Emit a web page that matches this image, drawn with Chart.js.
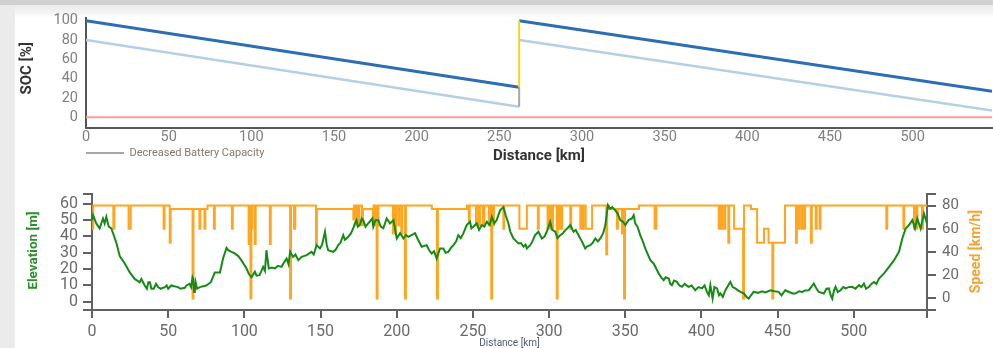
<!DOCTYPE html>
<html><head><meta charset="utf-8">
<script src="https://cdn.jsdelivr.net/npm/chart.js@4.4.1/dist/chart.umd.min.js"></script>
<style>
html,body{margin:0;padding:0;background:#fff;width:993px;height:348px;overflow:hidden;}
#frameTop{position:absolute;left:0;top:0;width:993px;height:5px;background:#d0d0d0;}
#frameTop2{position:absolute;left:0;top:5px;width:993px;height:13px;background:linear-gradient(#ebebeb,#f3f3f3 55%,#ffffff);}
#frameLeft{position:absolute;left:0;top:0;width:15px;height:348px;background:#ebebeb;}
#c1{position:absolute;left:0;top:0;}
#c2{position:absolute;left:0;top:170px;}
</style></head>
<body>
<div id="frameTop2"></div><div id="frameLeft"></div><div id="frameTop"></div>
<canvas id="c1" width="993" height="170"></canvas>
<canvas id="c2" width="993" height="178"></canvas>
<script>
// ---------- data ----------
const routeEnd = 548;
const distanceTicks = [0, 50, 100, 150, 200, 250, 300, 350, 400, 450, 500];
const socTicks = [0, 20, 40, 60, 80, 100];
const elevTicks = [0, 10, 20, 30, 40, 50, 60];
const speedTicks = [0, 20, 40, 60, 80];

// State of charge (route with one charging stop at km 262)
const socKm = [0, 262, 262, 548];
const socMain = [100, 31, 100, 27];
const socDecreased = [80, 11, 80, 7];
const reserveSoc = [0, 0];
const reserveKm = [0, 548];

// Elevation profile
const elevKm = [0, 0.7, 2.8, 5, 7.2, 8.3, 9.4, 11, 12.7, 13.8, 16, 18.2, 21.5, 24.8, 28, 31.3, 32.4, 34.6, 36, 37, 38, 39, 40.5, 42, 43.4, 45, 47.8, 49, 50, 52, 54, 56.5, 58, 60.9, 62, 64, 65, 66, 66.4, 67, 67.5, 68, 69, 70.7, 75, 78, 80.6, 84, 86, 88.3,
  89.4, 91.5, 93.7, 96, 98, 101.4, 103, 104.7, 106.9, 108, 110, 112.3, 113.5, 114.5, 116, 118, 120, 122, 124.4, 126, 127.7, 129, 130, 132, 133.5, 135.4, 137.6, 140.9, 144.1, 145.5, 147.4, 149.6, 151, 152.9, 154, 155, 158.3, 160, 161.6, 163, 164.9, 166, 168.2, 170, 171.4, 172.5, 173.6, 174.5, 175.8, 177, 178, 179.5, 181.3, 184,
  184.6, 186, 187.9, 189.5, 191.2, 193.4, 195.6, 197.9, 200, 202.2, 204.4, 206, 207.6, 210, 212, 214, 216.4, 219.6, 221, 222.9, 224.5, 226.2, 228.4, 230.6, 232, 233.9, 235.5, 237.2, 239, 240.4, 242, 243.7, 245.9, 248.1, 249, 250.3, 252.5, 254, 255.8, 257.5, 259.1, 261, 262.4, 264, 265.6, 267.8, 270, 271.5, 273.3,
  274.5, 276.6, 278.5, 279.9, 281.5, 283.2, 284.5, 285.4, 287.6, 289, 290.8, 293, 295.2, 297, 298.5, 300.7, 302, 304, 305.5, 307.3, 309, 310.6, 312, 313.9, 316, 317.5, 319.3, 321.5, 323.7, 325, 327, 328.5, 330.3, 332, 333.6, 335.5, 336.9, 338.6, 340.1, 341.5, 343.4, 345, 346.7, 348.5, 350, 352.1, 354.3, 355.5, 356.5, 358, 359.8, 361.5, 363.1, 364.8, 366.4, 368.6,
  371.9, 373.5, 375.2, 376.5, 378.5, 379.5, 380.6, 382, 383.9, 385.5, 387.2, 389, 391.5, 393.5, 395.9, 398, 400.3, 402, 403.6, 404.8, 405.8, 407.3, 408.5, 410.2, 411.5, 412.4, 414, 415.7, 417.5, 418.9, 420.5, 422.2, 424, 425.5, 428, 429.5, 431, 432.5, 434.2, 437, 439.7, 442, 445.2, 448, 450.6, 452.5, 455, 457.5, 459.9,
  461.7, 464, 466.1, 468, 470.4, 472, 473.7, 475.5, 477, 480.3, 482, 483.6, 484.8, 485.8, 487, 488, 489.5, 491.3, 493, 494.6, 496.5, 499, 501, 503.4, 505, 506.6, 508, 509.9, 511.5, 513.2, 514.8, 516.5, 519.8, 523.1, 526.4, 529.6, 531.8, 534, 536.2, 538.4, 540.1, 541.6, 543.8, 546, 548];
const elevM = [50, 53, 48, 45, 51, 48, 52, 46, 45, 42, 36, 28, 23.5, 18, 14, 12, 14, 10, 8, 12, 12, 8, 8, 11, 9, 8, 9, 10, 8, 10, 9.5, 9, 8, 8.6, 10, 11, 9, 15, 14, 6, 7, 12, 8, 9, 10, 12, 18, 18, 26.5, 33,
  31.6, 30.6, 29.6, 28, 25.5, 20.4, 17, 15, 18.4, 16, 16.3, 21.4, 19, 31.6, 20.4, 21, 20.4, 22, 21.4, 24, 26.5, 23, 30.6, 27.5, 29, 25.5, 27.5, 28.6, 30.6, 29, 34.7, 32.7, 35, 42.9, 35, 31.6, 30.6, 32, 34.7, 36, 40.8, 38, 39.8, 42, 44.9, 48, 50, 46, 47, 51, 50, 46, 48, 51,
  46, 50, 50, 46, 45, 51, 48, 50, 38.8, 42, 38.8, 41, 39.8, 41, 42, 38, 33.7, 34.7, 32, 29.6, 31, 26.5, 32.7, 32.7, 30, 30.6, 33, 34.7, 37, 40.8, 39, 41.9, 47, 49, 45, 46, 48, 44, 47, 46, 49, 47, 52, 48, 50, 56, 58, 53, 48,
  43, 38.8, 37, 35.7, 36, 33.7, 35, 32.7, 34.7, 37, 40.8, 42.9, 38.8, 40, 42.9, 49, 44, 42.9, 39, 40.8, 42, 43.9, 45, 47, 42.9, 44, 40.8, 37, 32.7, 34, 34.7, 36, 38.8, 37, 38.8, 42, 47, 59.2, 57, 58, 56, 54, 50, 49, 47, 50, 51, 53, 48, 46, 40.8, 37, 32.7, 29, 25.5, 23.5,
  17.4, 15, 13.3, 15, 14.3, 11, 10.2, 13, 12.2, 10, 9.2, 11, 9.2, 10, 7.1, 9, 8.2, 10, 6.1, 4, 10.2, 2, 9, 8.2, 4, 5.1, 3, 7.1, 10, 12.2, 9, 8.2, 7, 6.1, 5, 3, 2, 4, 6.1, 5.5, 6.5, 5.8, 7.1, 6.5, 6.1, 4, 7.1, 6, 5.1,
  5.1, 6.5, 6.1, 7, 7.1, 9, 11.2, 8, 6.1, 5.1, 8, 8.2, 4, 2, 7, 9.2, 6, 7.1, 9, 8.2, 9, 9.2, 8, 10.2, 9, 11.2, 8, 9.2, 11, 12.2, 11, 14.3, 17.4, 21.4, 25.5, 30.6, 38.8, 44.9, 47, 50, 44.9, 51, 44.9, 54, 48];

// Speed profile (value holds from the given km onward)
const speedKm = [0, 0.8, 14, 14.7, 24, 25.4, 47, 47.6, 51, 51.6, 66, 66.6, 70.5, 71.1, 73.8, 74.4, 75.8, 80, 80.6, 91.8, 92.4,
  102.8, 103.4, 104, 104.6, 105.2, 106.8, 107.4, 116.7, 117.3, 130, 130.6, 132.6, 133.4, 147, 147.6,
  171.5, 172, 173.2, 173.7, 175, 175.5, 177.2, 177.8, 184.3, 184.8, 185.6, 186.1, 186.8, 187.4, 188,
  197.5, 198, 199, 199.5, 201, 201.6, 203, 203.6, 205.4, 206, 223, 226.4, 227, 246, 247.3, 247.9,
  252, 252.6, 254, 254.6, 256.5, 257.5, 260.4, 261, 262, 262.6, 263.3, 263.8, 270, 270.5, 280.5, 285.4,
  292.6, 293.2, 299, 299.6, 300.5, 301, 302, 302.5, 305, 305.6, 306.5, 307, 308, 308.5, 313.9, 314.5,
  320.5, 321, 322, 322.6, 324, 328.2, 337.5, 338.1, 339, 344.5, 345.1, 347.8, 348.3, 349.2, 349.8, 359,
  369.2, 370.4, 411.3, 411.9, 413, 413.6, 415, 415.6, 417.6, 418.2, 421.4, 427.3, 427.9, 432.5, 436.5,
  441, 444, 446.5, 447.1, 454.8, 462, 462.6, 463.6, 464.2, 465.6, 466.2, 467.4, 468, 471.8, 472.4,
  475, 475.6, 477.5, 478.1, 521.3, 521.9, 532.5, 533.1, 539.5, 540.1, 541.1, 541.7, 544.7, 545.3, 548];
const speedKmh = [60, 80, 60, 80, 60, 80, 60, 80, 48, 77, 0, 77, 60, 77, 60, 77, 80, 60, 80, 60, 80,
  47, 80, 0, 60, 80, 47, 80, 47, 80, 0, 80, 60, 80, 47, 77,
  68, 80, 63, 80, 63, 80, 63, 77, 63, 80, 63, 80, 0, 63, 80,
  56, 80, 56, 80, 63, 80, 56, 80, 0, 80, 77, 0, 77, 80, 67, 80,
  63, 80, 63, 80, 63, 80, 63, 80, 0, 80, 63, 80, 60, 80, 60, 80,
  60, 80, 60, 80, 60, 80, 60, 80, 0, 80, 60, 80, 60, 80, 60, 80,
  60, 80, 60, 80, 60, 80, 38, 80, 77, 60, 77, 56, 77, 0, 77, 80,
  60, 80, 60, 80, 60, 80, 60, 80, 48, 80, 60, 0, 80, 77, 48,
  60, 48, 0, 48, 80, 48, 80, 60, 80, 60, 80, 60, 80, 48, 80,
  60, 80, 60, 80, 60, 80, 60, 80, 60, 80, 60, 80, 60, 80, 80];

// ---------- helpers ----------
const FONT = 'Roboto, "Liberation Sans", Arial, sans-serif';
function pts(xs, ys) {
  const out = [];
  for (let i = 0; i < xs.length; i++) {
    if (i > 0 && xs[i] === xs[i - 1]) out.push({x: xs[i], y: null});
    out.push({x: xs[i], y: ys[i]});
  }
  return out;
}
const stopIdx = socKm.findIndex((v, i) => i > 0 && v === socKm[i - 1]);
const stopKm = socKm[stopIdx];
const chargePts = [{x: stopKm, y: socMain[stopIdx - 1]}, {x: stopKm, y: socMain[stopIdx]}];
const lossPts = [{x: stopKm, y: socDecreased[stopIdx - 1]}, {x: stopKm, y: socMain[stopIdx - 1]}];

// Axis titles read bottom-to-top, drawn by a small plugin
const verticalTitles = {
  id: 'verticalTitles',
  afterDraw(chart, args, opts) {
    const ctx = chart.ctx;
    (opts.items || []).forEach(t => {
      const s = chart.scales[t.scale];
      const y = (s.top + s.bottom) / 2 + (t.dy || 0);
      ctx.save();
      ctx.translate(t.x, y);
      ctx.rotate(-Math.PI / 2);
      ctx.textAlign = 'center';
      ctx.textBaseline = 'middle';
      ctx.font = Chart.helpers.toFont(t.font).string;
      ctx.fillStyle = t.color;
      ctx.fillText(t.text, 0, 0);
      ctx.restore();
    });
  }
};

// ---------- top chart ----------
const legendMover = {
  id: 'legendMover',
  afterLayout(chart) {
    const L = chart.legend;
    if (!L) return;
    const pad = L.options.labels.padding;
    L.left = 86 - pad;
    L.right = L.left + 320;
    L.top = 153 - pad - 5.5;
    L.bottom = L.top + 30;
  }
};

new Chart(document.getElementById('c1'), {
  type: 'line',
  data: {
    datasets: [
      {label: 'Decreased Battery Capacity', data: lossPts, borderColor: '#a6a6a6', backgroundColor: '#a6a6a6', borderWidth: 2, order: 1},
      {label: 'Charging', data: chargePts, borderColor: '#f6d21c', backgroundColor: '#f6d21c', borderWidth: 2, order: 2},
      {label: 'SOC', data: pts(socKm, socMain), borderColor: '#2c6db4', backgroundColor: '#2c6db4', borderWidth: 3, order: 3},
      {label: 'SOC (decreased capacity)', data: pts(socKm, socDecreased), borderColor: '#b4cfe7', backgroundColor: '#b4cfe7', borderWidth: 2.5, order: 4},
      {label: 'Reserve', data: pts(reserveKm, reserveSoc), borderColor: '#ff9d9d', backgroundColor: '#ff9d9d', borderWidth: 2, order: 5}
    ]
  },
  options: {
    responsive: false, animation: false, devicePixelRatio: 1,
    layout: {padding: {top: 18, right: 1, left: 0, bottom: 0}},
    elements: {point: {radius: 0}, line: {tension: 0}},
    plugins: {
      tooltip: {enabled: false},
      legend: {
        position: 'chartArea', align: 'start',
        labels: {
          boxWidth: 38, boxHeight: 2, padding: 4, color: '#85776a',
          font: {family: FONT, size: 11},
          generateLabels: chart => Chart.defaults.plugins.legend.labels.generateLabels(chart)
            .filter(i => i.text === 'Decreased Battery Capacity')
            .map(i => Object.assign(i, {lineWidth: 0}))
        }
      },
      verticalTitles: {items: [
        {scale: 'y', text: 'SOC [%]', x: 27, dy: -4.5, color: '#333', font: {family: FONT, size: 15, weight: 'bold'}}
      ]}
    },
    scales: {
      x: {
        type: 'linear', min: 0, max: routeEnd,
        afterBuildTicks: s => { s.ticks = distanceTicks.map(v => ({value: v})); },
        afterFit: s => { s.height = 170 - 127.7; },
        grid: {display: false, drawTicks: false},
        border: {display: true, color: '#555', width: 2},
        ticks: {color: '#808080', font: {family: FONT, size: 14.5}, padding: 1, autoSkip: false, maxRotation: 0},
        title: {display: true, text: 'Distance [km]', color: '#333', font: {family: FONT, size: 15, weight: 'bold'}, padding: {top: 0, bottom: 4.6}}
      },
      y: {
        min: -10.8, max: 102.8,
        afterBuildTicks: s => { s.ticks = socTicks.map(v => ({value: v})); },
        afterFit: s => { s.width = 86; },
        grid: {display: false, drawTicks: false},
        border: {display: true, color: '#555', width: 2},
        ticks: {color: '#808080', font: {family: FONT, size: 14.5}, padding: 8, autoSkip: false},
        title: {display: false}
      }
    }
  },
  plugins: [legendMover, verticalTitles]
});

// ---------- bottom chart ----------
const axisGrey = '#626262';
new Chart(document.getElementById('c2'), {
  type: 'line',
  data: {
    datasets: [
      {label: 'Elevation', data: pts(elevKm, elevM), yAxisID: 'yElev', borderColor: '#168a16', backgroundColor: '#168a16', borderWidth: 2, order: 1},
      {label: 'Speed', data: speedKm.map((x, i) => ({x, y: speedKmh[i]})), yAxisID: 'ySpeed', stepped: true, borderColor: '#ffa51f', backgroundColor: '#ffa51f', borderWidth: 2, order: 2}
    ]
  },
  options: {
    responsive: false, animation: false, devicePixelRatio: 1,
    layout: {padding: {top: 24, right: 0, left: 0, bottom: 0}},
    elements: {point: {radius: 0}, line: {tension: 0}},
    plugins: {
      legend: {display: false}, tooltip: {enabled: false},
      verticalTitles: {items: [
        {scale: 'yElev', text: 'Elevation [m]', x: 34, dy: -1.5, color: '#2f8f2f', font: {family: FONT, size: 13.5, weight: 'bold'}},
        {scale: 'ySpeed', text: 'Speed [km/h]', x: 976, dy: -0.5, color: '#f6a22e', font: {family: FONT, size: 14, weight: 'bold'}}
      ]}
    },
    scales: {
      x: {
        type: 'linear', min: 0, max: routeEnd,
        afterBuildTicks: s => { s.ticks = [...distanceTicks, routeEnd].map(v => ({value: v})); },
        afterFit: s => { s.height = 38; },
        grid: {display: true, drawOnChartArea: false, drawTicks: true, tickLength: 8, color: axisGrey, lineWidth: 2},
        border: {display: true, color: axisGrey, width: 2},
        ticks: {callback: v => distanceTicks.includes(v) ? v : '', color: '#6a6a6a', font: {family: FONT, size: 16}, padding: 4, autoSkip: false, maxRotation: 0},
        title: {display: true, text: 'Distance [km]', color: '#4b5a7a', font: {family: FONT, size: 10, lineHeight: 1}, padding: {top: 0, bottom: 0}}
      },
      yElev: {
        position: 'left', min: -5, max: 66,
        afterBuildTicks: s => { s.ticks = [-5, ...elevTicks, 66].map(v => ({value: v})); },
        afterFit: s => { s.width = 92; },
        grid: {display: true, drawOnChartArea: false, drawTicks: true, tickLength: 9, color: axisGrey, lineWidth: 2},
        border: {display: true, color: axisGrey, width: 2},
        ticks: {callback: v => elevTicks.includes(v) ? v : '', color: '#6a6a6a', font: {family: FONT, size: 16}, padding: 5, autoSkip: false},
        title: {display: false}
      },
      ySpeed: {
        position: 'right', min: -10, max: 90,
        afterBuildTicks: s => { s.ticks = [-10, ...speedTicks, 90].map(v => ({value: v})); },
        afterFit: s => { s.width = 66; },
        grid: {display: true, drawOnChartArea: false, drawTicks: true, tickLength: 9, color: axisGrey, lineWidth: 2},
        border: {display: true, color: axisGrey, width: 2},
        ticks: {callback: v => speedTicks.includes(v) ? v : '', color: '#6a6a6a', font: {family: FONT, size: 15}, padding: 6, autoSkip: false},
        title: {display: false}
      }
    }
  },
  plugins: [verticalTitles]
});
</script>
</body></html>
